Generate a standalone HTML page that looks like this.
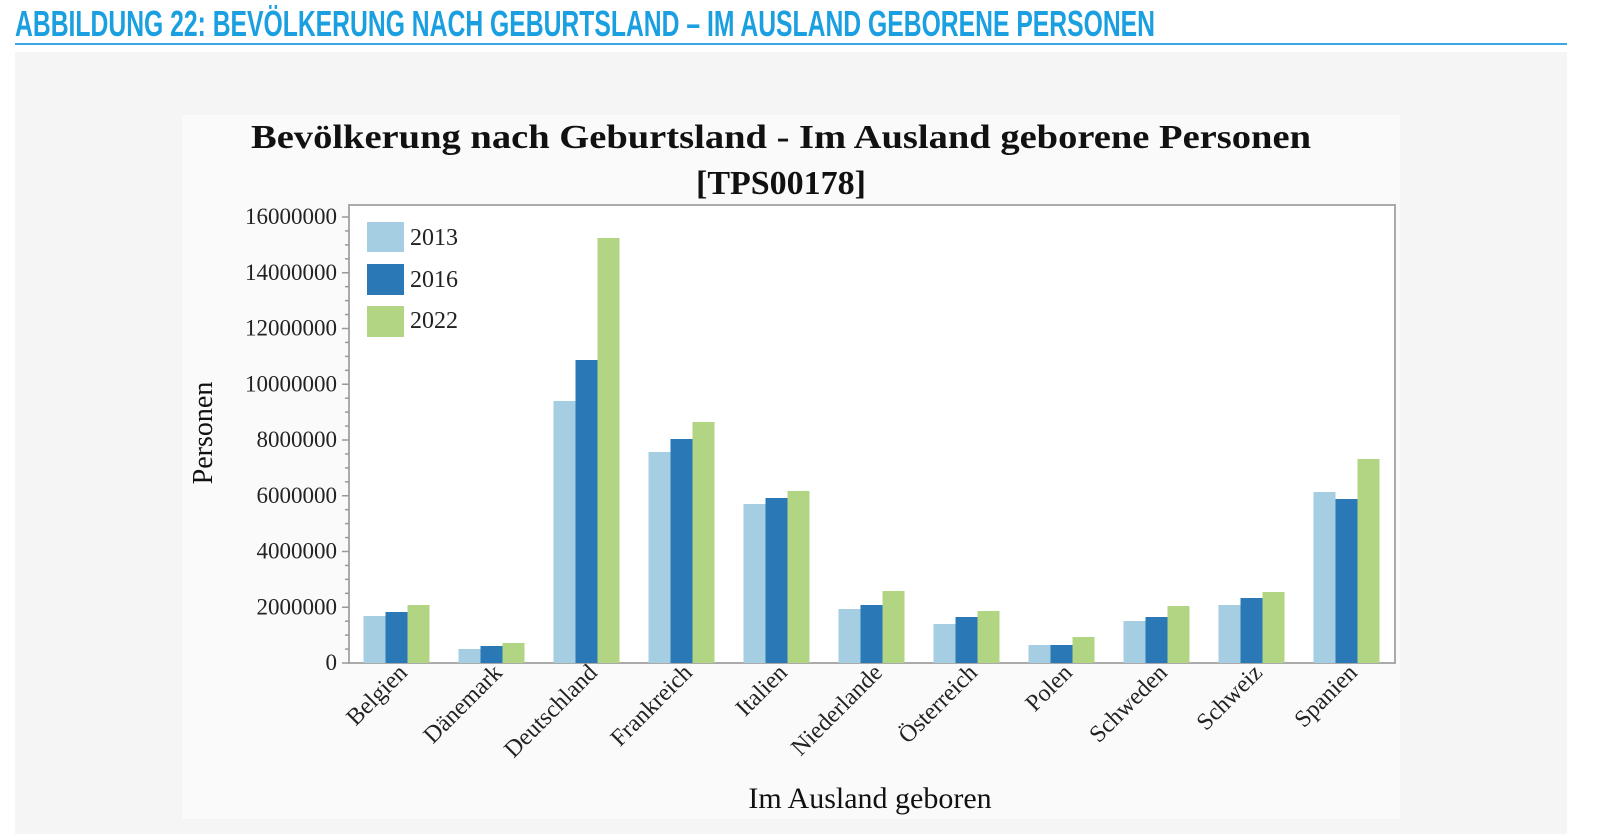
<!DOCTYPE html>
<html><head><meta charset="utf-8"><style>
html,body{margin:0;padding:0;background:#fff;width:1600px;height:834px;overflow:hidden}
svg{display:block}
</style></head><body>
<svg width="1600" height="834" xmlns="http://www.w3.org/2000/svg">
<text x="15" y="36" font-family="Liberation Sans, sans-serif" font-weight="bold" font-size="36" fill="#1a9fe0" textLength="1140" lengthAdjust="spacingAndGlyphs">ABBILDUNG 22: BEVÖLKERUNG NACH GEBURTSLAND – IM AUSLAND GEBORENE PERSONEN</text>
<rect x="15" y="43" width="1552" height="2" fill="#3aa8e2"/>
<rect x="15" y="52" width="1552" height="782" fill="#f5f5f5"/>
<rect x="182" y="115" width="1218" height="704" fill="#fafafa"/>
<g font-family="Liberation Serif, serif" fill="#111">
<text x="781" y="148" text-anchor="middle" font-weight="bold" font-size="34" textLength="1060" lengthAdjust="spacingAndGlyphs">Bevölkerung nach Geburtsland - Im Ausland geborene Personen</text>
<text x="781" y="194" text-anchor="middle" font-weight="bold" font-size="34">[TPS00178]</text>
</g>
<rect x="349" y="205" width="1046" height="458" fill="#fff" stroke="#aaa" stroke-width="2"/>
<g stroke="#999" stroke-width="1.5" id="ticks"></g>
<g id="bars"></g>
<g font-family="Liberation Serif, serif" font-size="23" fill="#222" text-anchor="end" id="ylab"></g>
<g font-family="Liberation Serif, serif" font-size="24" fill="#222" text-anchor="end" id="xlab"></g>
<g font-family="Liberation Serif, serif" font-size="24" fill="#222">
<rect x="367" y="222" width="37" height="30" fill="#a6cee3"/><text x="410" y="245">2013</text>
<rect x="367" y="264" width="37" height="31" fill="#2b78b6"/><text x="410" y="287">2016</text>
<rect x="367" y="306" width="37" height="31" fill="#b2d584"/><text x="410" y="328">2022</text>
</g>
<text x="870" y="808" text-anchor="middle" font-family="Liberation Serif, serif" font-size="30" fill="#111">Im Ausland geboren</text>
<text transform="translate(212,433) rotate(-90)" text-anchor="middle" font-family="Liberation Serif, serif" font-size="28" fill="#111">Personen</text>
</svg>
<script>
var NS="http://www.w3.org/2000/svg";
function el(p,t,a,txt){var e=document.createElementNS(NS,t);for(var k in a)e.setAttribute(k,a[k]);if(txt)e.textContent=txt;document.getElementById(p).appendChild(e);}
var names=["Belgien","Dänemark","Deutschland","Frankreich","Italien","Niederlande","Österreich","Polen","Schweden","Schweiz","Spanien"];
var tops=[[616,612,605],[649,646,643],[401,360,238],[452,439,422],[504,498,491],[609,605,591],[624,617,611],[645,645,637],[621,617,606],[605,598,592],[492,499,459]];
var cols=["#a6cee3","#2b78b6","#b2d584"];
for(var i=0;i<11;i++){var x0=363.5+i*95;
 for(var j=0;j<3;j++)el("bars","rect",{x:x0+j*22,y:tops[i][j],width:22,height:663-tops[i][j],fill:cols[j]});
 var cx=x0+33+12;el("xlab","text",{transform:"translate("+cx+",674) rotate(-45)"},names[i]);}
for(var k=0;k<=32;k++){var y=663-k*13.9375;var len=(k%4==0)?7:4;el("ticks","line",{x1:349-len,x2:349,y1:y,y2:y});}
for(var k=0;k<=8;k++){var y=663-k*55.75;el("ylab","text",{x:337,y:y+7},String(k*2000000));}
</script>
</body></html>
